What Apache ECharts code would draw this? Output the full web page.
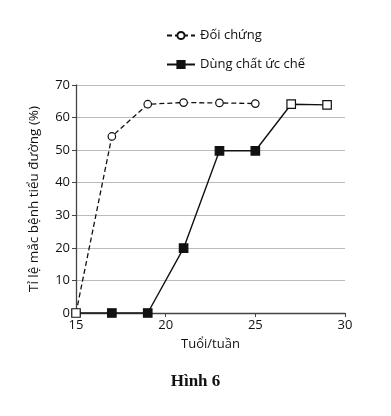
<!DOCTYPE html>
<html><head><meta charset="utf-8">
<script src="https://cdn.jsdelivr.net/npm/echarts@6/dist/echarts.min.js"></script>
<style>html,body{margin:0;padding:0;background:#fff}#c{width:391px;height:416px}</style>
</head><body><div id="c"></div>
<script>
var weeks = [15, 17, 19, 21, 23, 25, 27, 29];
var controlValues = [0, 54.2, 64.1, 64.6, 64.5, 64.3];
var inhibitorValues = [0, 0, 0, 19.9, 49.8, 49.8, 64.1, 63.9];
var openPoints = [15, 27, 29];
var xTicks = [15, 20, 25, 30];
var yTicks = [0, 10, 20, 30, 40, 50, 60, 70];

var font = '"Open Sans", sans-serif';
var controlData = controlValues.map(function(v, i){
  var p = {value: [weeks[i], v]};
  if (weeks[i] === 15) p.symbolSize = 0;
  return p;
});
var inhibitorData = inhibitorValues.map(function(v, i){
  var p = {value: [weeks[i], v]};
  if (openPoints.indexOf(weeks[i]) >= 0) p.itemStyle = {color: '#fff', borderColor: '#111', borderWidth: 1.2};
  return p;
});
var chart = echarts.init(document.getElementById('c'));
chart.setOption({
  animation: false,
  grid: {left: 76, right: 46, top: 85, bottom: 103},
  legend: {
    orient: 'vertical', left: 161, top: 24, itemGap: 16, itemWidth: 28, itemHeight: 9,
    textStyle: {fontFamily: font, fontSize: 13, color: '#111'},
    data: [{name: 'Đối chứng'}, {name: 'Dùng chất ức chế'}]
  },
  xAxis: {
    type: 'value', min: 15, max: 30, interval: 5,
    name: 'Tuổi/tuần', nameLocation: 'middle', nameGap: 25,
    nameTextStyle: {fontFamily: font, fontSize: 13, color: '#111'},
    axisLine: {lineStyle: {color: '#444', width: 1.3}},
    axisTick: {show: true, length: 4, lineStyle: {color: '#444'}},
    axisLabel: {fontFamily: font, fontSize: 13, color: '#111', margin: 6,
      formatter: function(v){ return xTicks.indexOf(v) >= 0 ? String(v) : ''; }},
    splitLine: {show: false}
  },
  yAxis: {
    type: 'value', min: 0, max: 70, interval: 10,
    name: 'Tỉ lệ mắc bệnh tiểu đường (%)', nameLocation: 'middle', nameGap: 35,
    nameTextStyle: {fontFamily: font, fontSize: 13.5, color: '#111'},
    axisLine: {show: true, lineStyle: {color: '#444', width: 1.3}},
    axisTick: {show: true, length: 4, lineStyle: {color: '#444'}},
    axisLabel: {fontFamily: font, fontSize: 13, color: '#111', margin: 6,
      formatter: function(v){ return yTicks.indexOf(v) >= 0 ? String(v) : ''; }},
    splitLine: {show: true, lineStyle: {color: '#bbb', width: 1}}
  },
  series: [
    {
      name: 'Đối chứng', type: 'line', data: controlData,
      symbol: 'circle', symbolSize: 7.5,
      lineStyle: {color: '#111', width: 1.3, type: [5, 3]},
      itemStyle: {color: '#fff', borderColor: '#111', borderWidth: 1.2},
      z: 2
    },
    {
      name: 'Dùng chất ức chế', type: 'line', data: inhibitorData,
      symbol: 'rect', symbolSize: 8.5,
      lineStyle: {color: '#111', width: 1.4},
      itemStyle: {color: '#111', borderColor: '#111', borderWidth: 1.2},
      z: 3
    }
  ],
  graphic: [{
    type: 'text', left: 'center', top: 373,
    style: {text: 'Hình 6', font: 'bold 17px "Liberation Serif", serif', fill: '#111'}
  }]
});
</script></body></html>
